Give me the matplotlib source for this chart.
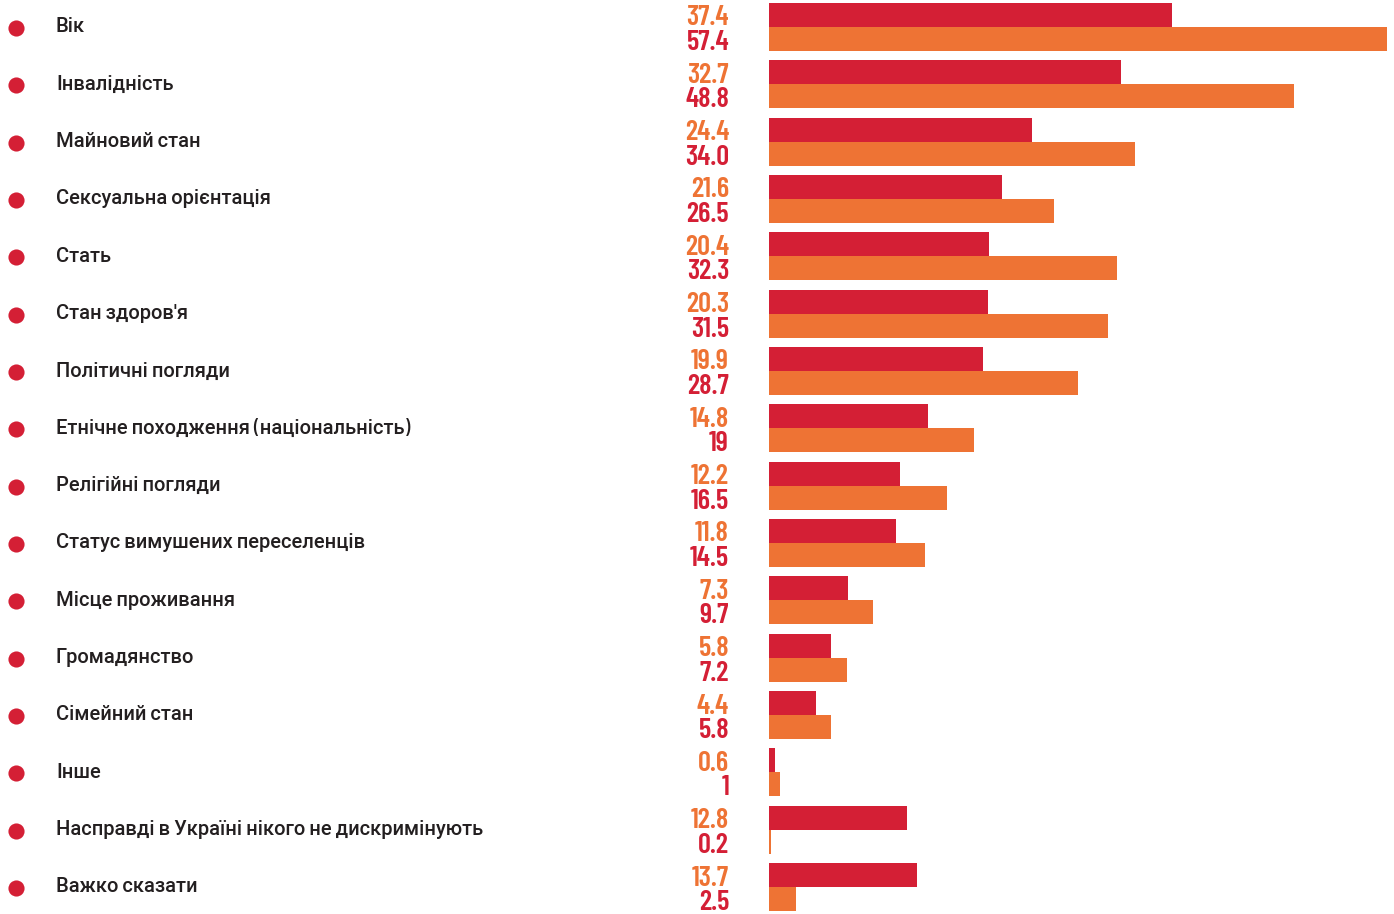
import numpy as np
import matplotlib
matplotlib.use("Agg")
import matplotlib.pyplot as plt
from matplotlib.transforms import blended_transform_factory

# DATA
categories = [
    "Вік",
    "Інвалідність",
    "Майновий стан",
    "Сексуальна орієнтація",
    "Стать",
    "Стан здоров'я",
    "Політичні погляди",
    "Етнічне походження (національність)",
    "Релігійні погляди",
    "Статус вимушених переселенців",
    "Місце проживання",
    "Громадянство",
    "Сімейний стан",
    "Інше",
    "Насправді в Україні нікого не дискримінують",
    "Важко сказати",
]
red_values = [37.4, 32.7, 24.4, 21.6, 20.4, 20.3, 19.9, 14.8, 12.2, 11.8, 7.3, 5.8, 4.4, 0.6, 12.8, 13.7]
orange_values = [57.4, 48.8, 34.0, 26.5, 32.3, 31.5, 28.7, 19, 16.5, 14.5, 9.7, 7.2, 5.8, 1, 0.2, 2.5]
red_labels = ["37.4", "32.7", "24.4", "21.6", "20.4", "20.3", "19.9", "14.8", "12.2", "11.8", "7.3", "5.8", "4.4", "0.6", "12.8", "13.7"]
orange_labels = ["57.4", "48.8", "34.0", "26.5", "32.3", "31.5", "28.7", "19", "16.5", "14.5", "9.7", "7.2", "5.8", "1", "0.2", "2.5"]

RED = "#D41F35"
ORANGE = "#EE7334"
TEXT = "#231F20"

W, H = 1394, 914
fig = plt.figure(figsize=(W / 100, H / 100), dpi=100)

# bars axes: starts at x=769px
ax = fig.add_axes([769 / W, 0, (W - 769) / W, 1])
n = len(categories)
y = np.arange(n)
row_px = 860 / 15
bh = 24 / row_px

ax.barh(y - bh / 2, red_values, height=bh, color=RED, linewidth=0)
ax.barh(y + bh / 2, orange_values, height=bh, color=ORANGE, linewidth=0)

scale = 618 / 57.4
ax.set_xlim(0, (W - 769) / scale)
pad = 27 / row_px
ax.set_ylim(n - 1 + pad, -pad)
ax.axis("off")

tr = blended_transform_factory(fig.transFigure, ax.transData)

# dots + category labels
ax.scatter(np.full(n, 16 / W), y + 1 / row_px, s=135, color=RED,
           transform=tr, clip_on=False, linewidths=0)
for i, cat in enumerate(categories):
    ax.text(56 / W, i, cat, transform=tr, ha="left", va="center",
            fontsize=14.5, fontweight="medium", color=TEXT,
            family=["Barlow", "Roboto", "DejaVu Sans"], clip_on=False)

# value labels (orange number for red bar, red number for orange bar)
num_font = ["Barlow Condensed", "Roboto Condensed", "Open Sans Condensed", "DejaVu Sans"]
for i in range(n):
    ax.text(729 / W, i - 1.5 / row_px, red_labels[i], transform=tr,
            ha="right", va="baseline", fontsize=20.5, fontweight="semibold",
            color=ORANGE, family=num_font, clip_on=False)
    ax.text(729 / W, i + 23 / row_px, orange_labels[i], transform=tr,
            ha="right", va="baseline", fontsize=20.5, fontweight="semibold",
            color=RED, family=num_font, clip_on=False)

fig.savefig("out.png", dpi=100)
